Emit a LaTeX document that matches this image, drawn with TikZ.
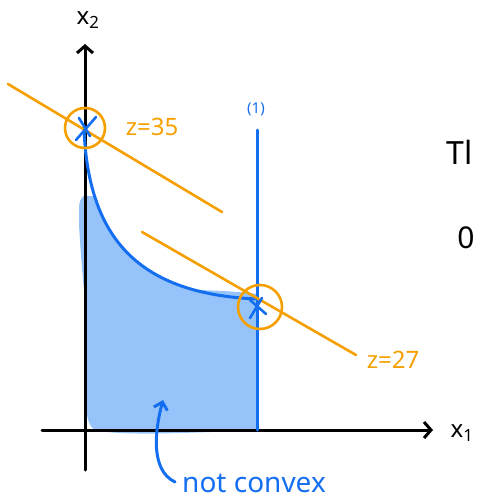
\documentclass[tikz,border=0pt]{standalone}
\usepackage{fontspec}
\setmainfont{Noto Sans}
\usetikzlibrary{arrows.meta}
\definecolor{myblue}{RGB}{20,110,240}
\definecolor{myorange}{RGB}{245,160,0}
\definecolor{myfill}{RGB}{150,196,250}
\begin{document}
\begin{tikzpicture}[x=1pt,y=-1pt,line cap=round,line join=round,
  axis/.style={line width=3pt,black},
  bl/.style={line width=3pt,myblue},
  org/.style={line width=2.6pt,myorange},
  lbl/.style={inner sep=0pt,font=\fontsize{24}{24}\selectfont}]
\useasboundingbox (0,0) rectangle (480,504);
% filled region
\begin{scope}
\clip (0,196) rectangle (480,504);
\fill[myfill] (84,128) .. controls (88,240) and (140,294) .. (257,298)
  -- (257,430) -- (240,431) .. controls (180,433) and (120,436) .. (95,430)
  .. controls (86,426) and (84,400) .. (84,380) -- cycle;
\fill[myfill] (79,210) .. controls (78,196) and (88,190) .. (92,200) -- (92,290) -- (84,290) .. controls (81,260) and (80,240) .. (79,225) -- cycle;
\fill[myfill] (190,290) .. controls (215,290) and (240,292) .. (257,294) -- (257,302) -- (190,300) -- cycle;
\end{scope}
% axes
\coordinate (yb) at (85,470); \coordinate (yt) at (85,44);
\coordinate (xl) at (42,430); \coordinate (xr) at (433,430);
\draw[axis,-{Straight Barb[length=7pt,width=16pt]}] (yb) -- (yt);
\draw[axis,-{Straight Barb[length=7pt,width=16pt]}] (xl) -- (xr);
\node[lbl] (x2) at (88,20) {x\textsubscript{2}};
\node[lbl] (x1) at (462,433) {x\textsubscript{1}};
% constraint (1)
\coordinate (c1b) at (257,430); \coordinate (c1t) at (257,130);
\draw[bl] (c1b) -- (c1t);
\node[lbl,text=myblue,font=\fontsize{15}{15}\selectfont] (l1) at (256,109) {(1)};
% curve
\coordinate (p1) at (84,128); \coordinate (p2) at (257,299);
\draw[bl] (p1) .. controls (88,240) and (140,294) .. (p2);
% orange lines
\coordinate (o1a) at (8,84); \coordinate (o1b) at (222,212);
\coordinate (o2a) at (142,232); \coordinate (o2b) at (356,355);
\draw[org] (o1a) -- (o1b);
\draw[org] (o2a) -- (o2b);
% crosses
\draw[bl,line width=2.6pt] (76,140) -- (96,117) (79,118) -- (90,136);
\draw[bl,line width=2.6pt] (250,318) -- (262,298) (250,300) -- (266,314);
% circles
\node[draw=myorange,line width=2.6pt,circle,minimum size=40pt,inner sep=0pt] (cA) at (85,128) {};
\node[draw=myorange,line width=2.6pt,circle,minimum size=44pt,inner sep=0pt] (cB) at (260,307) {};
\node[lbl,text=myorange] (z35) at (152,127) {z=35};
\node[lbl,text=myorange] (z27) at (393,360) {z=27};
% right partial text
\node[lbl,font=\fontsize{32}{32}\selectfont] (t1) at (460,152) {Tl};
\node[lbl,font=\fontsize{30}{30}\selectfont] (t2) at (466,238) {0};
% not convex arrow
\coordinate (ab) at (175,482); \coordinate (at) at (163,400);
\draw[bl,-{Straight Barb[length=7pt,width=14pt]}] (ab) .. controls (150,470) and (155,430) .. (at);
\node[lbl,text=myblue,font=\fontsize{28}{28}\selectfont,anchor=west] (nc) at (182,483) {not convex};
\end{tikzpicture}
\end{document}
